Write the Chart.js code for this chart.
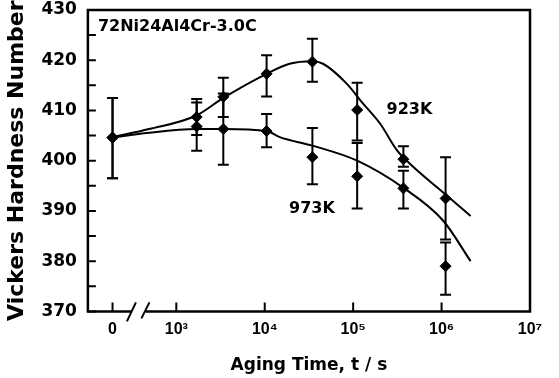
<!DOCTYPE html>
<html>
<head>
<meta charset="utf-8">
<script src="https://cdn.jsdelivr.net/npm/chart.js@4/dist/chart.umd.min.js"></script>
<style>
html, body { margin: 0; background: #fff; }
#caixa { width: 559px; height: 378px; }
</style>
</head>
<body>
<div id="caixa"><canvas id="graficoDureza"></canvas></div>
<script>
// t = 0 is placed on the broken log axis at this value
const ZERO = 190;
const tickVals = [ZERO, 1e3, 1e4, 1e5, 1e6, 1e7];
const tickLabels = ['0', '10³', '10⁴', '10⁵', '10⁶', '10⁷'];

// measured points (aging time in s)
const tempos = [ZERO, 1700, 3400, 10500, 34600, 111000, 370000, 1110000];
const hv923 = [404.6, 408.7, 412.7, 417.3, 419.7, 410.1, 400.3, 392.5];
const hv923Min = [396.5, 405.1, 408.7, 412.8, 415.7, 404.0, 398.8, 384.3];
const hv923Max = [412.5, 412.3, 416.5, 421.0, 424.3, 415.5, 402.9, 400.7];
const hv973 = [404.6, 406.8, 406.3, 405.9, 400.7, 396.9, 394.5, 379.0];
const hv973Min = [396.5, 402.0, 399.2, 402.7, 395.3, 390.5, 390.5, 373.3];
const hv973Max = [412.5, 411.6, 413.4, 409.3, 406.5, 403.5, 398.0, 383.7];

// hand drawn trend curves
const curva923X = [ZERO, 493, 1690, 3400, 10500, 19100, 34600, 45600, 85000, 126000, 203000, 315000, 444000, 902000, 2130000];
const curva923Y = [404.7, 406.3, 409.0, 412.5, 417.3, 419.3, 419.8, 419.3, 415.3, 411.6, 407.3, 402.0, 399.3, 394.6, 389.0];
const curva973X = [ZERO, 457, 1690, 3400, 10500, 14800, 34600, 111000, 370000, 1050000, 2130000];
const curva973Y = [404.6, 405.5, 406.3, 406.3, 405.9, 404.7, 403.0, 400.0, 394.6, 388.0, 380.0];

const pares = (xs, ys) => xs.map((x, i) => ({ x: x, y: ys[i] }));

const extras = {
    id: 'extras',
    afterDatasetsDraw(chart) {
        const { ctx, chartArea: a, scales: { x, y } } = chart;
        ctx.save();
        ctx.strokeStyle = '#000';
        ctx.fillStyle = '#000';
        ctx.lineCap = 'butt';

        // error bars
        ctx.lineWidth = 2;
        [[hv923Min, hv923Max], [hv973Min, hv973Max]].forEach(([lo, hi]) => {
            tempos.forEach((t, i) => {
                const px = x.getPixelForValue(t);
                const y1 = y.getPixelForValue(lo[i]);
                const y2 = y.getPixelForValue(hi[i]);
                ctx.beginPath();
                ctx.moveTo(px, y1); ctx.lineTo(px, y2);
                ctx.moveTo(px - 5.5, y1); ctx.lineTo(px + 5.5, y1);
                ctx.moveTo(px - 5.5, y2); ctx.lineTo(px + 5.5, y2);
                ctx.stroke();
            });
        });

        // frame with axis break
        const x0 = x.getPixelForValue(ZERO);
        const x3 = x.getPixelForValue(1e3);
        const c = (x0 + x3) / 2;
        const s1 = c - 13, s2 = c + 1;
        ctx.lineWidth = 2.5;
        ctx.beginPath();
        ctx.moveTo(s1, a.bottom);
        ctx.lineTo(a.left, a.bottom);
        ctx.lineTo(a.left, a.top);
        ctx.lineTo(a.right, a.top);
        ctx.lineTo(a.right, a.bottom);
        ctx.lineTo(s2, a.bottom);
        ctx.stroke();
        ctx.lineWidth = 2;
        ctx.beginPath();
        ctx.moveTo(s1 - 4.5, a.bottom + 10); ctx.lineTo(s1 + 4.5, a.bottom - 9);
        ctx.moveTo(s2 - 4, a.bottom + 7); ctx.lineTo(s2 + 4, a.bottom - 9);
        ctx.stroke();

        // inward ticks
        ctx.beginPath();
        y.ticks.forEach(t => {
            const py = y.getPixelForValue(t.value);
            ctx.moveTo(a.left, py); ctx.lineTo(a.left + 8, py);
        });
        tickVals.forEach(v => {
            const px = x.getPixelForValue(v);
            ctx.moveTo(px, a.bottom); ctx.lineTo(px, a.bottom - 9);
        });
        ctx.stroke();

        // labels
        ctx.font = 'bold 16px "DejaVu Sans"';
        ctx.textBaseline = 'middle';
        ctx.textAlign = 'left';
        ctx.fillText('72Ni24Al4Cr-3.0C', a.left + 10, a.top + 17);
        ctx.textAlign = 'center';
        ctx.fillText('923K', x.getPixelForValue(433000), y.getPixelForValue(410.2));
        ctx.fillText('973K', x.getPixelForValue(34200), y.getPixelForValue(390.4));
        ctx.restore();
    }
};

const ctx = document.getElementById('graficoDureza').getContext('2d');
const grafico = new Chart(ctx, {
    type: 'line',
    data: {
        datasets: [
            {
                label: '923K curve',
                data: pares(curva923X, curva923Y),
                borderColor: '#000',
                borderWidth: 2,
                pointRadius: 0,
                cubicInterpolationMode: 'monotone'
            },
            {
                label: '973K curve',
                data: pares(curva973X, curva973Y),
                borderColor: '#000',
                borderWidth: 2,
                pointRadius: 0,
                cubicInterpolationMode: 'monotone'
            },
            {
                label: '923K',
                data: pares(tempos, hv923),
                showLine: false,
                pointStyle: 'rectRot',
                pointRadius: 5.5,
                backgroundColor: '#000',
                borderColor: '#000'
            },
            {
                label: '973K',
                data: pares(tempos, hv973),
                showLine: false,
                pointStyle: 'rectRot',
                pointRadius: 5.5,
                backgroundColor: '#000',
                borderColor: '#000'
            }
        ]
    },
    options: {
        responsive: true,
        maintainAspectRatio: false,
        animation: false,
        layout: {
            padding: { left: 1, right: 29, top: 0, bottom: 2 }
        },
        plugins: {
            legend: { display: false },
            tooltip: { enabled: false }
        },
        scales: {
            x: {
                type: 'logarithmic',
                min: 100,
                max: 1e7,
                afterBuildTicks: scale => {
                    scale.ticks = tickVals.map(v => ({ value: v }));
                },
                grid: { display: false, drawTicks: false },
                border: { display: false },
                ticks: {
                    autoSkip: false,
                    maxRotation: 0,
                    padding: 9,
                    color: '#000',
                    font: { family: 'Liberation Sans', size: 16, weight: 'bold' },
                    callback: v => tickLabels[tickVals.indexOf(v)]
                },
                title: {
                    display: true,
                    text: 'Aging Time, t / s',
                    color: '#000',
                    font: { family: 'DejaVu Sans', size: 17, weight: 'bold' },
                    padding: { top: 7, bottom: 0 }
                }
            },
            y: {
                min: 370,
                max: 430,
                afterFit: scale => {
                    scale.paddingTop = 10;
                },
                grid: { display: false, drawTicks: false },
                border: { display: false },
                ticks: {
                    stepSize: 5,
                    padding: 11,
                    color: '#000',
                    font: { family: 'DejaVu Sans', size: 17, weight: 'bold' },
                    callback: v => (v % 10 === 0 ? v : '')
                },
                title: {
                    display: true,
                    text: 'Vickers Hardness Number',
                    color: '#000',
                    font: { family: 'DejaVu Sans', size: 22, weight: 'bold' },
                    padding: { top: 3, bottom: 0 }
                }
            }
        }
    },
    plugins: [extras]
});
</script>
</body>
</html>
